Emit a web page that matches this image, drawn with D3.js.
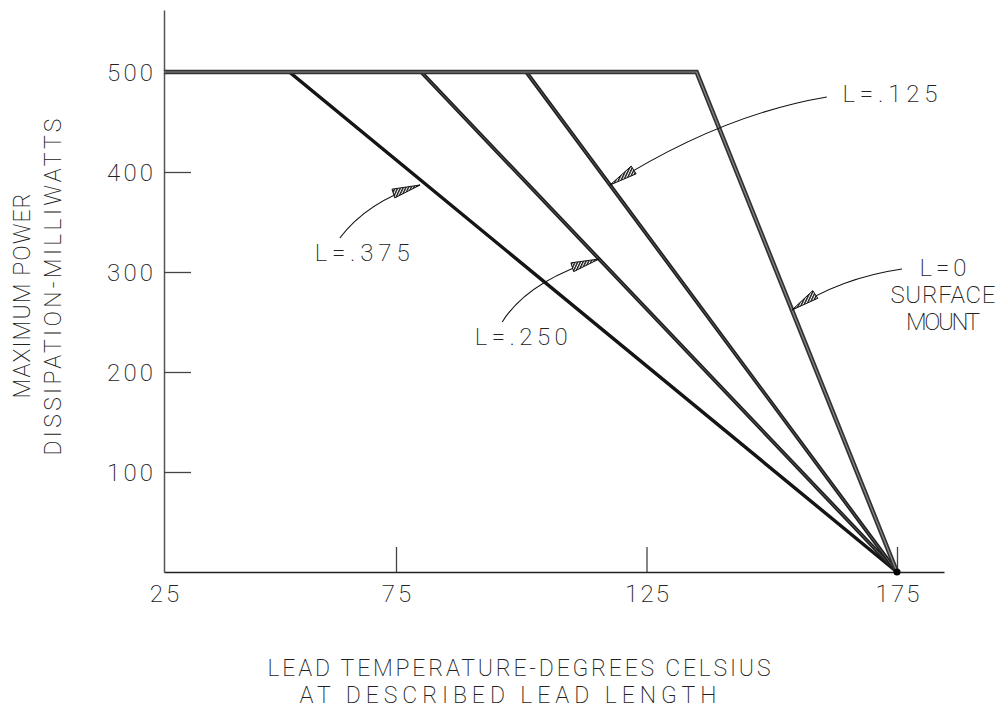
<!DOCTYPE html>
<html><head><meta charset="utf-8">
<script src="https://cdn.jsdelivr.net/npm/d3@7"></script>
<style>
body{margin:0;background:#fff}
text{font-family:Roboto,"DejaVu Sans",sans-serif;font-weight:200;fill:#222}
</style>
</head><body>
<svg id="c" width="1005" height="714"></svg>
<script>
// ---- data ----
const xTicks = [25, 75, 125, 175];
const yTicks = [100, 200, 300, 400, 500];
const seriesNames = ["L=.375", "L=.250", "L=.125", "L=0"];
const startTemp = [25, 25, 25, 25];
const breakTemp = [52, 80, 101, 135];
const zeroTemp = [175, 175, 175, 175];
const maxPower = [500, 500, 500, 500];
// annotations (data coordinates)
const annoLines = [["L=.375"], ["L=.250"], ["L=.125"], ["L=0", "SURFACE", "MOUNT"]];
const annoTextWidth = [[95], [93], [95], [47, 105, 74]];
const annoTextTemp = [67.7, 100, 173.6, 184.2];
const annoTextPower = [311, 227, 470, 296];
const annoTipPower = [387, 313, 387, 262];
const annoStart = [[62.9, 334], [96.2, 250], [161, 475], [176, 303]];
const annoCtrl = [[68.75, 370], [101.3, 291], [139.7, 457], [163.6, 294]];

const svg = d3.select("#c");
const x = d3.scaleLinear().domain([25, 75, 175, 184.4]).range([164, 396, 897, 944]);
const y = d3.scaleLinear().domain([0, 562]).range([572, 10]);

// hatch pattern for arrowheads
const defs = svg.append("defs");
const pat = defs.append("pattern").attr("id", "hatch").attr("width", 2.4).attr("height", 2.4)
  .attr("patternUnits", "userSpaceOnUse").attr("patternTransform", "rotate(25)");
pat.append("rect").attr("width", 2.4).attr("height", 2.4).attr("fill", "#fff");
pat.append("rect").attr("width", 1.4).attr("height", 2.4).attr("fill", "#1a1a1a");

// axes
const yAxis = d3.axisLeft(y).tickValues(yTicks).tickSizeInner(-27).tickSizeOuter(0).tickPadding(11);
const gy = svg.append("g").attr("transform", `translate(${x(25)},0)`).call(yAxis);
gy.select(".domain").attr("stroke", "#555").attr("stroke-width", 1.5);
gy.selectAll(".tick line").attr("stroke", "#444").attr("stroke-width", 1.3);
gy.selectAll(".tick text").attr("font-size", 24).attr("textLength", 46).attr("dy", "0.36em")
  .style("font-family", "Roboto, 'DejaVu Sans', sans-serif").style("font-weight", 200).attr("fill", "#222");

const xAxis = d3.axisBottom(x).tickValues(xTicks).tickSizeInner(-25).tickSizeOuter(0).tickPadding(13);
const gx = svg.append("g").attr("transform", `translate(0,${y(0)})`).call(xAxis);
gx.select(".domain").attr("stroke", "#222").attr("stroke-width", 1.5);
gx.selectAll(".tick line").attr("stroke", "#444").attr("stroke-width", 1.3);
gx.selectAll(".tick").filter(d => d === 25).select("line").remove();
gx.selectAll(".tick text").attr("font-size", 24).attr("textLength", d => String(d).length * 14.7)
  .style("font-family", "Roboto, 'DejaVu Sans', sans-serif").style("font-weight", 200).attr("fill", "#222");

// series lines
const line = d3.line().x(d => x(d[0])).y(d => y(d[1]));
const styles = [
  {outer: "#151515", ow: 3.4, inner: null},
  {outer: "#202020", ow: 3.8, inner: "#6a6a6a", iw: 0.8},
  {outer: "#202020", ow: 3.8, inner: "#6a6a6a", iw: 0.8},
  {outer: "#333", ow: 4.6, inner: "#8c8c8c", iw: 1.2}
];
seriesNames.forEach((name, i) => {
  const pts = [[startTemp[i], maxPower[i]], [breakTemp[i], maxPower[i]], [zeroTemp[i], 0]];
  const s = styles[i];
  svg.append("path").attr("d", line(pts)).attr("fill", "none")
    .attr("stroke", s.outer).attr("stroke-width", s.ow).attr("stroke-linejoin", "miter");
  if (s.inner) svg.append("path").attr("d", line(pts)).attr("fill", "none")
    .attr("stroke", s.inner).attr("stroke-width", s.iw);
});
svg.append("circle").attr("cx", x(175)).attr("cy", y(0)).attr("r", 3.5).attr("fill", "#000");

// annotations
annoLines.forEach((lines, i) => {
  const p = annoTipPower[i];
  const tTemp = breakTemp[i] + (zeroTemp[i] - breakTemp[i]) * (1 - p / maxPower[i]);
  const tip = [x(tTemp), y(p)];
  const st = [x(annoStart[i][0]), y(annoStart[i][1])];
  const c = [x(annoCtrl[i][0]), y(annoCtrl[i][1])];
  const path = d3.path();
  path.moveTo(st[0], st[1]);
  path.quadraticCurveTo(c[0], c[1], tip[0], tip[1]);
  svg.append("path").attr("d", path.toString()).attr("fill", "none").attr("stroke", "#111").attr("stroke-width", 1.1);
  // arrowhead
  const dx = tip[0] - c[0], dy = tip[1] - c[1];
  const len = Math.hypot(dx, dy);
  const ux = dx / len, uy = dy / len;
  const L = 28, W = 4.6;
  const bx = tip[0] - ux * L, by = tip[1] - uy * L;
  const ah = d3.path();
  ah.moveTo(tip[0], tip[1]);
  ah.lineTo(bx - uy * W, by + ux * W);
  ah.lineTo(bx + uy * W, by - ux * W);
  ah.closePath();
  svg.append("path").attr("d", ah.toString()).attr("fill", "url(#hatch)").attr("stroke", "#111").attr("stroke-width", 1);
  // text
  const t = svg.append("text").attr("text-anchor", "middle").attr("font-size", 24);
  lines.forEach((s, k) => {
    t.append("tspan").attr("x", x(annoTextTemp[i])).attr("y", y(annoTextPower[i]) + k * 27)
      .attr("textLength", annoTextWidth[i][k]).text(s);
  });
});

// axis titles
const yTitle = ["MAXIMUM POWER", "DISSIPATION-MILLIWATTS"];
const yTitleX = [30, 61];
const yTitleLen = [205, 337];
yTitle.forEach((s, k) => {
  svg.append("text").attr("transform", `translate(${yTitleX[k]},${k === 0 ? 296 : 287}) rotate(-90)`)
    .attr("text-anchor", "middle").attr("font-size", 23).attr("textLength", yTitleLen[k]).text(s);
});
const xTitle = ["LEAD TEMPERATURE-DEGREES CELSIUS", "AT DESCRIBED LEAD LENGTH"];
const xTitleCX = [519, 508];
const xTitleLen = [503, 417];
xTitle.forEach((s, k) => {
  svg.append("text").attr("x", xTitleCX[k]).attr("y", 676 + k * 27).attr("text-anchor", "middle")
    .attr("font-size", 23).attr("textLength", xTitleLen[k]).text(s);
});
</script>
</body></html>
